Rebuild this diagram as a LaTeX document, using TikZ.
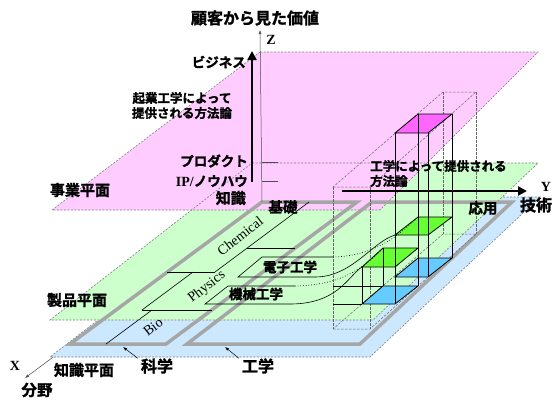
\documentclass[tikz,border=0pt]{standalone}
\usepackage{fontspec}
\setmainfont{Liberation Serif}
\newfontfamily\jp{Noto Sans CJK JP Bold}[AutoFakeBold=1.6]
\usetikzlibrary{arrows.meta}
\definecolor{pinkP}{HTML}{FFCCFF}
\definecolor{greenP}{HTML}{CCFFCC}
\definecolor{blueP}{HTML}{CCE8FF}
\definecolor{magBox}{HTML}{FF66FF}
\definecolor{limeBox}{HTML}{66FF33}
\definecolor{blueBox}{HTML}{66CCFF}
\definecolor{frameG}{HTML}{A6A6A6}
\definecolor{edgeG}{HTML}{7F7F7F}
\tikzset{
  jl/.style={font=\jp\bfseries\fontsize{#1}{#1}\selectfont, inner sep=0pt},
  jl/.default=13.5,
  lt/.style={font=\bfseries\fontsize{#1}{#1}\selectfont, inner sep=0pt},
  lt/.default=14,
  rt/.style={font=\fontsize{14}{14}\selectfont, inner sep=0pt, rotate=38},
  planeedge/.style={draw=edgeG, line width=0.6pt, dash pattern=on 2pt off 1.5pt},
  framebox/.style={draw=frameG, line width=3.5pt, line join=miter},
  prism/.style={draw=edgeG!80!black, line width=0.5pt, dash pattern=on 2.5pt off 1.5pt},
  boxedge/.style={draw=black, line width=0.8pt},
  thin line/.style={draw=black, line width=0.6pt},
  axis/.style={draw=black!70, line width=0.5pt, -{Latex[length=4pt,width=3pt]}},
  bigarrow/.style={draw=black, line width=2.6pt, -{Triangle[length=9pt,width=9pt]}},
}
\begin{document}
\begin{tikzpicture}[x=1pt,y=-1pt]
\useasboundingbox (0,0) rectangle (553,400);
% plane corners
\coordinate (P1) at (260,52);  \coordinate (P2) at (538,52);
\coordinate (P3) at (380,210); \coordinate (P4) at (52,210);
\coordinate (G1) at (252,163); \coordinate (G2) at (538,163);
\coordinate (G3) at (373,320); \coordinate (G4) at (50,320);
\coordinate (B1) at (258,197); \coordinate (B2) at (540,197);
\coordinate (B3) at (370,357); \coordinate (B4) at (50,357);
\coordinate (O) at (262,202);
\coordinate (Xend) at (25,378);
% X axis (mostly hidden)
\draw[axis] (O) -- (Xend);
% planes
\fill[blueP] (B1) -- (B2) -- (B3) -- (B4) -- cycle;
\path[planeedge] (B1) -- (B2) -- (B3) -- (B4) -- cycle;
\fill[greenP] (G1) -- (G2) -- (G3) -- (G4) -- cycle;
\fill[pinkP] (P1) -- (P2) -- (P3) -- (P4) -- cycle;
\path[planeedge] (G1) -- (G2) -- (G3) -- (G4) -- cycle;
\path[planeedge] (P1) -- (P2) -- (P3) -- (P4) -- cycle;
% frames
\coordinate (F1a) at (262,202); \coordinate (F1b) at (357,202);
\coordinate (F1c) at (166,344); \coordinate (F1d) at (70,344);
\coordinate (F2a) at (372,202); \coordinate (F2b) at (512,202);
\coordinate (F2c) at (360,344); \coordinate (F2d) at (187,344);
\path[framebox] (F1a) -- (F1b) -- (F1c) -- (F1d) -- cycle;
\path[framebox] (F2a) -- (F2b) -- (F2c) -- (F2d) -- cycle;
% strip lines (Bio / Physics / Chemical)
\coordinate (S1) at (309,202); \coordinate (S2) at (215,272);
\coordinate (S3) at (247,248); \coordinate (S4) at (295,248);
\coordinate (S5) at (167,272); \coordinate (S6) at (193,272);
\coordinate (S7) at (142,310); \coordinate (S8) at (212,310);
\coordinate (S9) at (152,310); \coordinate (S10) at (106,344);
\path[thin line] (S1) -- (S2);
\path[thin line] (S3) -- (S4);
\path[thin line] (S5) -- (S2);
\path[thin line] (S6) -- (S7);
\path[thin line] (S7) -- (S8);
\path[thin line] (S9) -- (S10);
% tall prism
\coordinate (T1) at (333,187); \coordinate (T2) at (370,187);
\coordinate (T3) at (476,92);  \coordinate (T4) at (443,92);
\coordinate (T5) at (333,329); \coordinate (T6) at (370,329);
\coordinate (T7) at (476,234); \coordinate (T8) at (443,234);
\path[prism] (T1) -- (T2) -- (T3) -- (T4) -- cycle;
\path[prism] (T5) -- (T6) -- (T7) -- (T8) -- cycle;
\path[prism] (T1) -- (T5);
\path[prism] (T2) -- (T6);
\path[prism] (T3) -- (T7);
\path[prism] (T4) -- (T8);
% column A
\coordinate (Am1) at (395,133); \coordinate (Am2) at (428,133);
\coordinate (Am3) at (452,114); \coordinate (Am4) at (418,114);
\coordinate (Ag1) at (395,235); \coordinate (Ag2) at (428,235);
\coordinate (Ag3) at (452,217); \coordinate (Ag4) at (418,217);
\coordinate (Ab1) at (395,277); \coordinate (Ab2) at (428,277);
\coordinate (Ab3) at (452,258); \coordinate (Ab4) at (418,258);
% column B
\coordinate (Bg1) at (362,267); \coordinate (Bg2) at (395,267);
\coordinate (Bg3) at (418,248); \coordinate (Bg4) at (383,248);
\coordinate (Bb1) at (362,304); \coordinate (Bb2) at (395,304);
\coordinate (Bb3) at (418,286); \coordinate (Bb4) at (383,286);
\fill[blueBox] (Ab1) -- (Ab2) -- (Ab3) -- (Ab4) -- cycle;
\fill[limeBox] (Ag1) -- (Ag2) -- (Ag3) -- (Ag4) -- cycle;
\fill[magBox] (Am1) -- (Am2) -- (Am3) -- (Am4) -- cycle;
\fill[blueBox] (Bb1) -- (Bb2) -- (Bb3) -- (Bb4) -- cycle;
\fill[limeBox] (Bg1) -- (Bg2) -- (Bg3) -- (Bg4) -- cycle;
\path[boxedge] (Ab1) -- (Ab2) -- (Ab3) -- (Ab4) -- cycle;
\path[boxedge] (Ag1) -- (Ag2) -- (Ag3) -- (Ag4) -- cycle;
\path[boxedge] (Am1) -- (Am2) -- (Am3) -- (Am4) -- cycle;
\path[boxedge] (Am1) -- (Ab1);
\path[boxedge] (Am2) -- (Ab2);
\path[boxedge] (Am3) -- (Ab3);
\path[draw=black, line width=0.4pt] (Am4) -- (Ab4);
\path[boxedge] (Bb1) -- (Bb2) -- (Bb3) -- (Bb4) -- cycle;
\path[boxedge] (Bg1) -- (Bg2) -- (Bg3) -- (Bg4) -- cycle;
\path[boxedge] (Bg1) -- (Bb1);
\path[boxedge] (Bg2) -- (Bb2);
\path[boxedge] (Bg3) -- (Bb3);
\path[draw=black, line width=0.4pt] (Bg4) -- (Bb4);
\path[draw=black, line width=0.4pt] (T5 |- Bb4) -- (Bb4);
\path[draw=black, line width=0.4pt] (T5 |- Bb1) -- (Bb1);
% 電子工学 / 機械工学 parallelograms and curves
\coordinate (E1) at (262,257); \coordinate (E2) at (333,257);
\coordinate (E3) at (315,277); \coordinate (E4) at (238,277);
\coordinate (K1) at (228,286); \coordinate (K2) at (295,286);
\coordinate (K3) at (290,304); \coordinate (K4) at (205,304);
\path[thin line] (E3) -- (E4) -- (E1) -- (E2);
\path[thin line] (K3) -- (K4) -- (K1) -- (K2);
\path[thin line] (E3) .. controls (352,277) and (372,242) .. (Ag1);
\path[thin line] (K3) .. controls (338,304) and (348,276) .. (Bg1);
\path[draw=black, line width=0.7pt, dotted] (E2) .. controls (370,256) and (395,240) .. (Ag4);
\path[draw=black, line width=0.7pt, dotted] (K2) .. controls (335,285) and (358,274) .. (Bg4);
% Z axis and ticks
\coordinate (Ztop) at (260,30);
\draw[axis] (O) -- (Ztop);
\coordinate (Tk1) at (262,162); \coordinate (Tk1e) at (278,162);
\coordinate (Tk2) at (262,181); \coordinate (Tk2e) at (278,181);
\path[draw=black!70, line width=0.6pt] (Tk1) -- (Tk1e);
\path[draw=black!70, line width=0.6pt] (Tk2) -- (Tk2e);
% big arrows
\coordinate (Ka) at (252,182); \coordinate (Kb) at (252,51);
\path[bigarrow] (Ka) -- (Kb);
\coordinate (Ya) at (342,191); \coordinate (Yb) at (527,191);
\path[bigarrow] (Ya) -- (Yb);
% labels
\node[jl=16] (title) at (255,18) {顧客から見た価値};
\node[lt=14] (zl) at (271,40) {Z};
\node[jl=13.5, anchor=east] (biz) at (246,62) {ビジネス};
\node[jl=12.5] (kigyo1) at (182,98) {起業工学によって};
\node[jl=12.5] (kigyo2) at (182,113) {提供される方法論};
\node[jl=13.5, anchor=east] (prod) at (248,161) {プロダクト};
\node[anchor=east, inner sep=0pt] (ip) at (248,181) {{\bfseries\fontsize{14}{14}\selectfont IP/}{\jp\bfseries\fontsize{13.5}{13.5}\selectfont ノウハウ}};
\node[jl=15, anchor=east] (chishiki) at (246,198) {知識};
\node[jl=15] (jigyo) at (80,190) {事業平面};
\node[jl=15] (seihin) at (77,300) {製品平面};
\node[jl=15] (chishikiP) at (84,370) {知識平面};
\node[jl=16] (kagaku) at (157,366) {科学};
\node[jl=16] (kougaku) at (258,366) {工学};
\draw[draw=black, line width=0.5pt, -{Latex[length=4pt,width=3pt]}] (kagaku.north west) ++(-3,0) coordinate (ka0) (ka0) -- (123,347) coordinate (ka1);
\draw[draw=black, line width=0.5pt, -{Latex[length=4pt,width=3pt]}] (kougaku.north west) ++(-3,0) coordinate (ko0) (ko0) -- (225,347) coordinate (ko1);
\node[lt=14] (xl) at (15,366) {X};
\node[jl=15.5] (bunya) at (37,390) {分野};
\node[jl=14.5] (kiso) at (283,207) {基礎};
\node[jl=14.5] (ouyou) at (483,208) {応用};
\node[jl=16] (gijutsu) at (536,205) {技術};
\node[lt=14] (yl) at (546,187) {Y};
\node[jl=12.5, anchor=west] (kg1) at (370,166) {工学によって提供される};
\node[jl=12.5, anchor=west] (kg2) at (370,181) {方法論};
\node[jl=13.5] (denshi) at (290,267) {電子工学};
\node[jl=13.5] (kikai) at (256,294) {機械工学};
\node[rt] (chem) at (240,236) {Chemical};
\node[rt] (phys) at (207,287) {Physics};
\node[rt] (bio) at (153,327) {Bio};
\end{tikzpicture}
\end{document}
